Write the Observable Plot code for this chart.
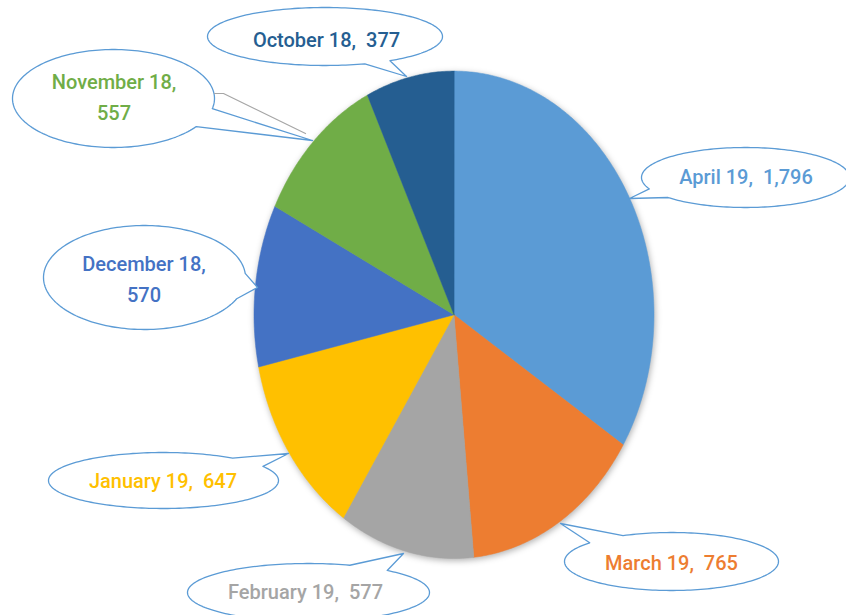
<!DOCTYPE html>
<html><head><meta charset="utf-8">
<script src="https://cdn.jsdelivr.net/npm/d3@7"></script>
<script src="https://cdn.jsdelivr.net/npm/@observablehq/plot@0.6"></script>
<style>html,body{margin:0;padding:0;background:#fff;overflow:hidden}</style>
</head><body><div id="chart"></div>
<script>
// ---- data ----
const months = ["April 19", "March 19", "February 19", "January 19", "December 18", "November 18", "October 18"];
const values = [1796, 765, 577, 647, 570, 557, 377];
const sliceColors = ["#5B9BD5", "#ED7D31", "#A5A5A5", "#FFC000", "#4472C4", "#70AD47", "#255E91"];
const labelBreak = ["  ", "  ", "  ", "  ", "\n", "\n", "  "];

// ---- layout (pixels) ----
const pieBox = {cx: 453.5, cy: 314.3, rx: 200, ry: 243.7};
const toX = px => (px - pieBox.cx) / pieBox.rx;
const toY = py => (pieBox.cy - py) / pieBox.ry;
const textShift = -3;
const callouts = [
  {ex: 745, ey: 177, erx: 104, ery: 30, tipX: 629, tipY: 198, half: 0.17, tx: 745.5, ty: 177},
  {ex: 671, ey: 561, erx: 107, ery: 29, tipX: 560, tipY: 523, half: 0.2, tx: 671, ty: 563},
  {ex: 308, ey: 592, erx: 121, ery: 29, tipX: 403, tipY: 553, half: 0.18, tx: 305, ty: 592},
  {ex: 163, ey: 480, erx: 115, ery: 28, tipX: 288, tipY: 453, half: 0.2, tx: 162.5, ty: 480.5},
  {ex: 144, ey: 277, erx: 101, ery: 52, tipX: 257, tipY: 287, half: 0.25, tx: 143.5, ty: 279},
  {ex: 113, ey: 98, erx: 101, ery: 49, tipX: 312, tipY: 140, half: 0.2, tx: 113.5, ty: 97.5},
  {ex: 324.5, ey: 36, erx: 117.5, ery: 29, tipX: 406, tipY: 76, half: 0.12, tx: 326, ty: 40}
];
const leader = [[214, 93], [223, 93], [305, 133]];

// ---- slices ----
const arcs = d3.pie().sort(null).startAngle(0).endAngle(2 * Math.PI)(values);
const slicePts = [];
arcs.forEach((a, i) => {
  slicePts.push({k: i, x: 0, y: 0, c: sliceColors[i]});
  const n = Math.max(2, Math.ceil((a.endAngle - a.startAngle) / 0.01));
  for (let j = 0; j <= n; j++) {
    const t = a.startAngle + (a.endAngle - a.startAngle) * j / n;
    slicePts.push({k: i, x: Math.sin(t), y: Math.cos(t), c: sliceColors[i]});
  }
});

// ---- callout bubbles ----
const bubblePts = [];
callouts.forEach((c, i) => {
  const t0 = Math.atan2((c.tipY - c.ey) / c.ery, (c.tipX - c.ex) / c.erx);
  const a0 = t0 + c.half, a1 = t0 - c.half + 2 * Math.PI;
  const n = 180;
  for (let j = 0; j <= n; j++) {
    const t = a0 + (a1 - a0) * j / n;
    bubblePts.push({k: i, x: toX(c.ex + c.erx * Math.cos(t)), y: toY(c.ey + c.ery * Math.sin(t))});
  }
  bubblePts.push({k: i, x: toX(c.tipX), y: toY(c.tipY)});
});
const labels = months.map((m, i) => ({
  x: toX(callouts[i].tx), y: toY(callouts[i].ty + textShift),
  text: m + "," + labelBreak[i] + d3.format(",")(values[i]),
  c: sliceColors[i]
}));
const leaderPts = leader.map(([px, py]) => ({x: toX(px), y: toY(py)}));

const chart = Plot.plot({
  width: 846, height: 615,
  margin: 0,
  x: {domain: [-1, 1], range: [pieBox.cx - pieBox.rx, pieBox.cx + pieBox.rx], axis: null},
  y: {domain: [-1, 1], range: [pieBox.cy + pieBox.ry, pieBox.cy - pieBox.ry], axis: null},
  color: {type: "identity"},
  marks: [
    Plot.line(slicePts, {x: "x", y: "y", z: "k", fill: "c", stroke: "c", strokeWidth: 0.5, curve: "linear-closed"}),
    Plot.line(bubblePts, {x: "x", y: "y", z: "k", fill: "white", stroke: "#5B9BD5", strokeWidth: 1.3, curve: "linear-closed"}),
    Plot.line(leaderPts, {x: "x", y: "y", stroke: "#A6A6A6", strokeWidth: 1.2}),
    Plot.text(labels, {x: "x", y: "y", text: "text", fill: "c", fontSize: 20, fontWeight: 500,
      fontFamily: "Roboto", lineHeight: 1.55})
  ]
});
const g = chart.querySelector('g[aria-label="line"]');
if (g) g.style.filter = "drop-shadow(1px 2px 3px rgba(0,0,0,0.3))";
document.getElementById("chart").appendChild(chart);
</script>
</body></html>
